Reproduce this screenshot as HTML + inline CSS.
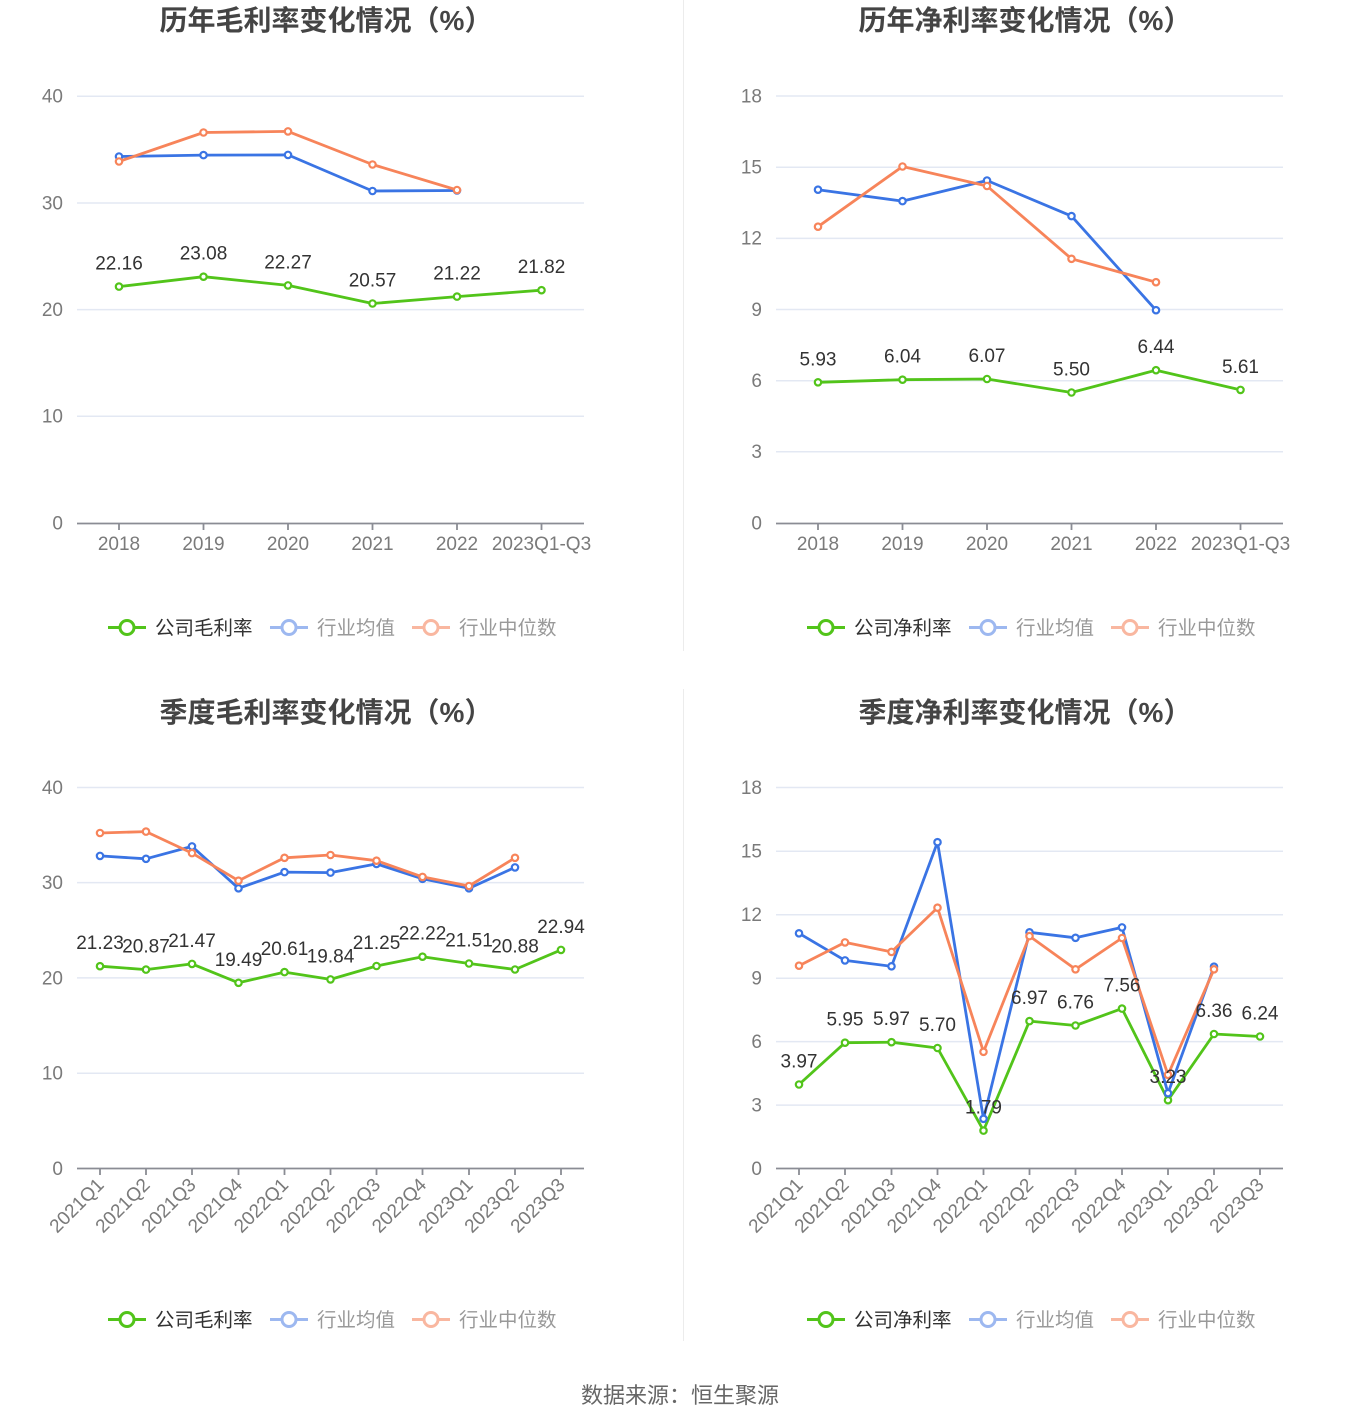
<!DOCTYPE html>
<html>
<head>
<meta charset="utf-8">
<style>
html,body{margin:0;padding:0;background:#fff;}
svg{display:block;}
text{font-family:"Liberation Sans","Noto Sans CJK SC",sans-serif;}
.t{font-size:28px;font-weight:bold;fill:#444;text-anchor:middle;}
.ya{font-size:19px;fill:#7a7a7a;text-anchor:end;}
.xa{font-size:19px;fill:#7a7a7a;text-anchor:middle;}
.xr{font-size:19px;fill:#7a7a7a;text-anchor:end;}
.dl{font-size:19px;fill:#333;text-anchor:middle;}
.lg{font-size:19.5px;fill:#333;}
.lgi{font-size:19.5px;fill:#999;}
.grid{stroke:#e3e8f3;stroke-width:1.5;}
.axis{stroke:#8a8c94;stroke-width:1.8;}
.g{fill:none;stroke:#52c41a;stroke-width:2.8;stroke-linejoin:round;}
.b{fill:none;stroke:#3a74e4;stroke-width:2.8;stroke-linejoin:round;}
.o{fill:none;stroke:#f7845a;stroke-width:2.8;stroke-linejoin:round;}
.mg circle{fill:#fff;stroke:#52c41a;stroke-width:2.2;}
.mb circle{fill:#fff;stroke:#3a74e4;stroke-width:2.2;}
.mo circle{fill:#fff;stroke:#f7845a;stroke-width:2.2;}
</style>
</head>
<body>
<svg width="1360" height="1425" viewBox="0 0 1360 1425" xmlns="http://www.w3.org/2000/svg">
<rect width="1360" height="1425" fill="#fff"/>
<line x1="683.5" y1="0" x2="683.5" y2="651" stroke="#ececec" stroke-width="1"/>
<line x1="683.5" y1="689" x2="683.5" y2="1341" stroke="#ececec" stroke-width="1"/>

<!-- ========== CHART 1 ========== -->
<text class="t" x="326" y="30">历年毛利率变化情况（%）</text>
<g>
<line class="grid" x1="77" y1="96.2" x2="584" y2="96.2"/>
<line class="grid" x1="77" y1="203" x2="584" y2="203"/>
<line class="grid" x1="77" y1="309.6" x2="584" y2="309.6"/>
<line class="grid" x1="77" y1="416.3" x2="584" y2="416.3"/>
<text class="ya" x="63" y="102.5">40</text>
<text class="ya" x="63" y="209.5">30</text>
<text class="ya" x="63" y="316">20</text>
<text class="ya" x="63" y="422.5">10</text>
<text class="ya" x="63" y="529.5">0</text>
<line class="axis" x1="77" y1="523.5" x2="584" y2="523.5"/>
<g class="axis">
<line x1="119" y1="523.5" x2="119" y2="530"/><line x1="203.5" y1="523.5" x2="203.5" y2="530"/><line x1="288" y1="523.5" x2="288" y2="530"/><line x1="372.5" y1="523.5" x2="372.5" y2="530"/><line x1="457" y1="523.5" x2="457" y2="530"/><line x1="541.5" y1="523.5" x2="541.5" y2="530"/>
</g>
<text class="xa" x="119" y="550">2018</text>
<text class="xa" x="203.5" y="550">2019</text>
<text class="xa" x="288" y="550">2020</text>
<text class="xa" x="372.5" y="550">2021</text>
<text class="xa" x="457" y="550">2022</text>
<text class="xa" x="541.5" y="550">2023Q1-Q3</text>
<polyline class="g" points="119,286.6 203.5,276.7 288,285.4 372.5,303.5 457,296.6 541.5,290.2"/>
<polyline class="b" points="119,156.5 203.5,155.1 288,154.9 372.5,191 457,190.5"/>
<polyline class="o" points="119,161.5 203.5,132.5 288,131.4 372.5,164.5 457,190"/>
<g class="mg"><circle cx="119" cy="286.6" r="3.2"/><circle cx="203.5" cy="276.7" r="3.2"/><circle cx="288" cy="285.4" r="3.2"/><circle cx="372.5" cy="303.5" r="3.2"/><circle cx="457" cy="296.6" r="3.2"/><circle cx="541.5" cy="290.2" r="3.2"/></g>
<g class="mb"><circle cx="119" cy="156.5" r="3.2"/><circle cx="203.5" cy="155.1" r="3.2"/><circle cx="288" cy="154.9" r="3.2"/><circle cx="372.5" cy="191" r="3.2"/><circle cx="457" cy="190.5" r="3.2"/></g>
<g class="mo"><circle cx="119" cy="161.5" r="3.2"/><circle cx="203.5" cy="132.5" r="3.2"/><circle cx="288" cy="131.4" r="3.2"/><circle cx="372.5" cy="164.5" r="3.2"/><circle cx="457" cy="190" r="3.2"/></g>
<text class="dl" x="119" y="269.6">22.16</text>
<text class="dl" x="203.5" y="259.7">23.08</text>
<text class="dl" x="288" y="268.4">22.27</text>
<text class="dl" x="372.5" y="286.5">20.57</text>
<text class="dl" x="457" y="279.6">21.22</text>
<text class="dl" x="541.5" y="273.2">21.82</text>
<line x1="108" y1="627.5" x2="146" y2="627.5" stroke="#52c41a" stroke-width="3"/>
<circle cx="127" cy="627.5" r="7" fill="#fff" stroke="#52c41a" stroke-width="3"/>
<text class="lg" x="155" y="634.5">公司毛利率</text>
<line x1="270" y1="627.5" x2="308" y2="627.5" stroke="#9db8f0" stroke-width="3"/>
<circle cx="289" cy="627.5" r="7" fill="#fff" stroke="#9db8f0" stroke-width="3"/>
<text class="lgi" x="317" y="634.5">行业均值</text>
<line x1="412" y1="627.5" x2="450" y2="627.5" stroke="#f9b7a0" stroke-width="3"/>
<circle cx="431" cy="627.5" r="7" fill="#fff" stroke="#f9b7a0" stroke-width="3"/>
<text class="lgi" x="459" y="634.5">行业中位数</text>
</g>

<!-- ========== CHART 2 ========== -->
<text class="t" x="1025" y="30">历年净利率变化情况（%）</text>
<g>
<line class="grid" x1="776" y1="96" x2="1283" y2="96"/>
<line class="grid" x1="776" y1="167.2" x2="1283" y2="167.2"/>
<line class="grid" x1="776" y1="238.4" x2="1283" y2="238.4"/>
<line class="grid" x1="776" y1="309.5" x2="1283" y2="309.5"/>
<line class="grid" x1="776" y1="380.7" x2="1283" y2="380.7"/>
<line class="grid" x1="776" y1="451.8" x2="1283" y2="451.8"/>
<text class="ya" x="762" y="102.5">18</text>
<text class="ya" x="762" y="173.5">15</text>
<text class="ya" x="762" y="244.5">12</text>
<text class="ya" x="762" y="316">9</text>
<text class="ya" x="762" y="387">6</text>
<text class="ya" x="762" y="458">3</text>
<text class="ya" x="762" y="529.5">0</text>
<line class="axis" x1="776" y1="523.5" x2="1283" y2="523.5"/>
<g class="axis">
<line x1="818" y1="523.5" x2="818" y2="530"/><line x1="902.5" y1="523.5" x2="902.5" y2="530"/><line x1="987" y1="523.5" x2="987" y2="530"/><line x1="1071.5" y1="523.5" x2="1071.5" y2="530"/><line x1="1156" y1="523.5" x2="1156" y2="530"/><line x1="1240.5" y1="523.5" x2="1240.5" y2="530"/>
</g>
<text class="xa" x="818" y="550">2018</text>
<text class="xa" x="902.5" y="550">2019</text>
<text class="xa" x="987" y="550">2020</text>
<text class="xa" x="1071.5" y="550">2021</text>
<text class="xa" x="1156" y="550">2022</text>
<text class="xa" x="1240.5" y="550">2023Q1-Q3</text>
<polyline class="g" points="818,382.3 902.5,379.7 987,379 1071.5,392.5 1156,370.2 1240.5,389.9"/>
<polyline class="b" points="818,189.7 902.5,201.1 987,180.5 1071.5,216.1 1156,310.2"/>
<polyline class="o" points="818,226.7 902.5,166.5 987,186 1071.5,258.8 1156,282.2"/>
<g class="mg"><circle cx="818" cy="382.3" r="3.2"/><circle cx="902.5" cy="379.7" r="3.2"/><circle cx="987" cy="379" r="3.2"/><circle cx="1071.5" cy="392.5" r="3.2"/><circle cx="1156" cy="370.2" r="3.2"/><circle cx="1240.5" cy="389.9" r="3.2"/></g>
<g class="mb"><circle cx="818" cy="189.7" r="3.2"/><circle cx="902.5" cy="201.1" r="3.2"/><circle cx="987" cy="180.5" r="3.2"/><circle cx="1071.5" cy="216.1" r="3.2"/><circle cx="1156" cy="310.2" r="3.2"/></g>
<g class="mo"><circle cx="818" cy="226.7" r="3.2"/><circle cx="902.5" cy="166.5" r="3.2"/><circle cx="987" cy="186" r="3.2"/><circle cx="1071.5" cy="258.8" r="3.2"/><circle cx="1156" cy="282.2" r="3.2"/></g>
<text class="dl" x="818" y="365.3">5.93</text>
<text class="dl" x="902.5" y="362.7">6.04</text>
<text class="dl" x="987" y="362">6.07</text>
<text class="dl" x="1071.5" y="375.5">5.50</text>
<text class="dl" x="1156" y="353.2">6.44</text>
<text class="dl" x="1240.5" y="372.9">5.61</text>
<line x1="807" y1="627.5" x2="845" y2="627.5" stroke="#52c41a" stroke-width="3"/>
<circle cx="826" cy="627.5" r="7" fill="#fff" stroke="#52c41a" stroke-width="3"/>
<text class="lg" x="854" y="634.5">公司净利率</text>
<line x1="969" y1="627.5" x2="1007" y2="627.5" stroke="#9db8f0" stroke-width="3"/>
<circle cx="988" cy="627.5" r="7" fill="#fff" stroke="#9db8f0" stroke-width="3"/>
<text class="lgi" x="1016" y="634.5">行业均值</text>
<line x1="1111" y1="627.5" x2="1149" y2="627.5" stroke="#f9b7a0" stroke-width="3"/>
<circle cx="1130" cy="627.5" r="7" fill="#fff" stroke="#f9b7a0" stroke-width="3"/>
<text class="lgi" x="1158" y="634.5">行业中位数</text>
</g>

<!-- ========== CHART 3 ========== -->
<text class="t" x="326" y="722">季度毛利率变化情况（%）</text>
<g>
<line class="grid" x1="77" y1="787.5" x2="584" y2="787.5"/>
<line class="grid" x1="77" y1="882.6" x2="584" y2="882.6"/>
<line class="grid" x1="77" y1="977.9" x2="584" y2="977.9"/>
<line class="grid" x1="77" y1="1073.2" x2="584" y2="1073.2"/>
<text class="ya" x="63" y="794">40</text>
<text class="ya" x="63" y="889">30</text>
<text class="ya" x="63" y="984.5">20</text>
<text class="ya" x="63" y="1079.5">10</text>
<text class="ya" x="63" y="1175">0</text>
<line class="axis" x1="77" y1="1168.5" x2="584" y2="1168.5"/>
<g class="axis">
<line x1="100" y1="1168.5" x2="100" y2="1175"/><line x1="146" y1="1168.5" x2="146" y2="1175"/><line x1="192" y1="1168.5" x2="192" y2="1175"/><line x1="238.5" y1="1168.5" x2="238.5" y2="1175"/><line x1="284.5" y1="1168.5" x2="284.5" y2="1175"/><line x1="330.5" y1="1168.5" x2="330.5" y2="1175"/><line x1="376.5" y1="1168.5" x2="376.5" y2="1175"/><line x1="422.5" y1="1168.5" x2="422.5" y2="1175"/><line x1="469" y1="1168.5" x2="469" y2="1175"/><line x1="515" y1="1168.5" x2="515" y2="1175"/><line x1="561" y1="1168.5" x2="561" y2="1175"/>
</g>
<text class="xr" transform="translate(105,1186) rotate(-45)">2021Q1</text>
<text class="xr" transform="translate(151,1186) rotate(-45)">2021Q2</text>
<text class="xr" transform="translate(197,1186) rotate(-45)">2021Q3</text>
<text class="xr" transform="translate(243.5,1186) rotate(-45)">2021Q4</text>
<text class="xr" transform="translate(289.5,1186) rotate(-45)">2022Q1</text>
<text class="xr" transform="translate(335.5,1186) rotate(-45)">2022Q2</text>
<text class="xr" transform="translate(381.5,1186) rotate(-45)">2022Q3</text>
<text class="xr" transform="translate(427.5,1186) rotate(-45)">2022Q4</text>
<text class="xr" transform="translate(474,1186) rotate(-45)">2023Q1</text>
<text class="xr" transform="translate(520,1186) rotate(-45)">2023Q2</text>
<text class="xr" transform="translate(566,1186) rotate(-45)">2023Q3</text>
<polyline class="g" points="100,966.2 146,969.6 192,963.9 238.5,982.8 284.5,972.1 330.5,979.4 376.5,966 422.5,956.7 469,963.5 515,969.5 561,949.9"/>
<polyline class="b" points="100,855.9 146,858.8 192,846.4 238.5,888.3 284.5,872.1 330.5,872.6 376.5,863.9 422.5,878.8 469,888.3 515,867.4"/>
<polyline class="o" points="100,833 146,831.6 192,853.1 238.5,880.7 284.5,857.8 330.5,855 376.5,860.7 422.5,876.9 469,886 515,857.8"/>
<g class="mg"><circle cx="100" cy="966.2" r="3.2"/><circle cx="146" cy="969.6" r="3.2"/><circle cx="192" cy="963.9" r="3.2"/><circle cx="238.5" cy="982.8" r="3.2"/><circle cx="284.5" cy="972.1" r="3.2"/><circle cx="330.5" cy="979.4" r="3.2"/><circle cx="376.5" cy="966" r="3.2"/><circle cx="422.5" cy="956.7" r="3.2"/><circle cx="469" cy="963.5" r="3.2"/><circle cx="515" cy="969.5" r="3.2"/><circle cx="561" cy="949.9" r="3.2"/></g>
<g class="mb"><circle cx="100" cy="855.9" r="3.2"/><circle cx="146" cy="858.8" r="3.2"/><circle cx="192" cy="846.4" r="3.2"/><circle cx="238.5" cy="888.3" r="3.2"/><circle cx="284.5" cy="872.1" r="3.2"/><circle cx="330.5" cy="872.6" r="3.2"/><circle cx="376.5" cy="863.9" r="3.2"/><circle cx="422.5" cy="878.8" r="3.2"/><circle cx="469" cy="888.3" r="3.2"/><circle cx="515" cy="867.4" r="3.2"/></g>
<g class="mo"><circle cx="100" cy="833" r="3.2"/><circle cx="146" cy="831.6" r="3.2"/><circle cx="192" cy="853.1" r="3.2"/><circle cx="238.5" cy="880.7" r="3.2"/><circle cx="284.5" cy="857.8" r="3.2"/><circle cx="330.5" cy="855" r="3.2"/><circle cx="376.5" cy="860.7" r="3.2"/><circle cx="422.5" cy="876.9" r="3.2"/><circle cx="469" cy="886" r="3.2"/><circle cx="515" cy="857.8" r="3.2"/></g>
<text class="dl" x="100" y="949.2">21.23</text>
<text class="dl" x="146" y="952.6">20.87</text>
<text class="dl" x="192" y="946.9">21.47</text>
<text class="dl" x="238.5" y="965.8">19.49</text>
<text class="dl" x="284.5" y="955.1">20.61</text>
<text class="dl" x="330.5" y="962.4">19.84</text>
<text class="dl" x="376.5" y="949">21.25</text>
<text class="dl" x="422.5" y="939.7">22.22</text>
<text class="dl" x="469" y="946.5">21.51</text>
<text class="dl" x="515" y="952.5">20.88</text>
<text class="dl" x="561" y="932.9">22.94</text>
<line x1="108" y1="1319.5" x2="146" y2="1319.5" stroke="#52c41a" stroke-width="3"/>
<circle cx="127" cy="1319.5" r="7" fill="#fff" stroke="#52c41a" stroke-width="3"/>
<text class="lg" x="155" y="1326.5">公司毛利率</text>
<line x1="270" y1="1319.5" x2="308" y2="1319.5" stroke="#9db8f0" stroke-width="3"/>
<circle cx="289" cy="1319.5" r="7" fill="#fff" stroke="#9db8f0" stroke-width="3"/>
<text class="lgi" x="317" y="1326.5">行业均值</text>
<line x1="412" y1="1319.5" x2="450" y2="1319.5" stroke="#f9b7a0" stroke-width="3"/>
<circle cx="431" cy="1319.5" r="7" fill="#fff" stroke="#f9b7a0" stroke-width="3"/>
<text class="lgi" x="459" y="1326.5">行业中位数</text>
</g>

<!-- ========== CHART 4 ========== -->
<text class="t" x="1025" y="722">季度净利率变化情况（%）</text>
<g>
<line class="grid" x1="776" y1="787.5" x2="1283" y2="787.5"/>
<line class="grid" x1="776" y1="851.3" x2="1283" y2="851.3"/>
<line class="grid" x1="776" y1="914.7" x2="1283" y2="914.7"/>
<line class="grid" x1="776" y1="978.2" x2="1283" y2="978.2"/>
<line class="grid" x1="776" y1="1041.6" x2="1283" y2="1041.6"/>
<line class="grid" x1="776" y1="1105.1" x2="1283" y2="1105.1"/>
<text class="ya" x="762" y="794">18</text>
<text class="ya" x="762" y="857.5">15</text>
<text class="ya" x="762" y="921">12</text>
<text class="ya" x="762" y="984.5">9</text>
<text class="ya" x="762" y="1048">6</text>
<text class="ya" x="762" y="1111.5">3</text>
<text class="ya" x="762" y="1175">0</text>
<line class="axis" x1="776" y1="1168.5" x2="1283" y2="1168.5"/>
<g class="axis">
<line x1="799" y1="1168.5" x2="799" y2="1175"/><line x1="845" y1="1168.5" x2="845" y2="1175"/><line x1="891.5" y1="1168.5" x2="891.5" y2="1175"/><line x1="937.5" y1="1168.5" x2="937.5" y2="1175"/><line x1="983.5" y1="1168.5" x2="983.5" y2="1175"/><line x1="1029.5" y1="1168.5" x2="1029.5" y2="1175"/><line x1="1075.5" y1="1168.5" x2="1075.5" y2="1175"/><line x1="1122" y1="1168.5" x2="1122" y2="1175"/><line x1="1168" y1="1168.5" x2="1168" y2="1175"/><line x1="1214" y1="1168.5" x2="1214" y2="1175"/><line x1="1260" y1="1168.5" x2="1260" y2="1175"/>
</g>
<text class="xr" transform="translate(804,1186) rotate(-45)">2021Q1</text>
<text class="xr" transform="translate(850,1186) rotate(-45)">2021Q2</text>
<text class="xr" transform="translate(896.5,1186) rotate(-45)">2021Q3</text>
<text class="xr" transform="translate(942.5,1186) rotate(-45)">2021Q4</text>
<text class="xr" transform="translate(988.5,1186) rotate(-45)">2022Q1</text>
<text class="xr" transform="translate(1034.5,1186) rotate(-45)">2022Q2</text>
<text class="xr" transform="translate(1080.5,1186) rotate(-45)">2022Q3</text>
<text class="xr" transform="translate(1127,1186) rotate(-45)">2022Q4</text>
<text class="xr" transform="translate(1173,1186) rotate(-45)">2023Q1</text>
<text class="xr" transform="translate(1219,1186) rotate(-45)">2023Q2</text>
<text class="xr" transform="translate(1265,1186) rotate(-45)">2023Q3</text>
<polyline class="g" points="799,1084.5 845,1042.7 891.5,1042.2 937.5,1048 983.5,1130.6 1029.5,1021.1 1075.5,1025.5 1122,1008.6 1168,1100.2 1214,1034 1260,1036.5"/>
<polyline class="b" points="799,933.3 845,960.4 891.5,966.3 937.5,842.2 983.5,1118.8 1029.5,932.3 1075.5,937.8 1122,927.4 1168,1093.2 1214,966.7"/>
<polyline class="o" points="799,965.7 845,942.4 891.5,951.9 937.5,907.7 983.5,1051.8 1029.5,936.1 1075.5,969.3 1122,938 1168,1074.8 1214,969.3"/>
<g class="mg"><circle cx="799" cy="1084.5" r="3.2"/><circle cx="845" cy="1042.7" r="3.2"/><circle cx="891.5" cy="1042.2" r="3.2"/><circle cx="937.5" cy="1048" r="3.2"/><circle cx="983.5" cy="1130.6" r="3.2"/><circle cx="1029.5" cy="1021.1" r="3.2"/><circle cx="1075.5" cy="1025.5" r="3.2"/><circle cx="1122" cy="1008.6" r="3.2"/><circle cx="1168" cy="1100.2" r="3.2"/><circle cx="1214" cy="1034" r="3.2"/><circle cx="1260" cy="1036.5" r="3.2"/></g>
<g class="mb"><circle cx="799" cy="933.3" r="3.2"/><circle cx="845" cy="960.4" r="3.2"/><circle cx="891.5" cy="966.3" r="3.2"/><circle cx="937.5" cy="842.2" r="3.2"/><circle cx="983.5" cy="1118.8" r="3.2"/><circle cx="1029.5" cy="932.3" r="3.2"/><circle cx="1075.5" cy="937.8" r="3.2"/><circle cx="1122" cy="927.4" r="3.2"/><circle cx="1168" cy="1093.2" r="3.2"/><circle cx="1214" cy="966.7" r="3.2"/></g>
<g class="mo"><circle cx="799" cy="965.7" r="3.2"/><circle cx="845" cy="942.4" r="3.2"/><circle cx="891.5" cy="951.9" r="3.2"/><circle cx="937.5" cy="907.7" r="3.2"/><circle cx="983.5" cy="1051.8" r="3.2"/><circle cx="1029.5" cy="936.1" r="3.2"/><circle cx="1075.5" cy="969.3" r="3.2"/><circle cx="1122" cy="938" r="3.2"/><circle cx="1168" cy="1074.8" r="3.2"/><circle cx="1214" cy="969.3" r="3.2"/></g>
<text class="dl" x="799" y="1067.5">3.97</text>
<text class="dl" x="845" y="1025.7">5.95</text>
<text class="dl" x="891.5" y="1025.2">5.97</text>
<text class="dl" x="937.5" y="1031">5.70</text>
<text class="dl" x="983.5" y="1113.6">1.79</text>
<text class="dl" x="1029.5" y="1004.1">6.97</text>
<text class="dl" x="1075.5" y="1008.5">6.76</text>
<text class="dl" x="1122" y="991.6">7.56</text>
<text class="dl" x="1168" y="1083.2">3.23</text>
<text class="dl" x="1214" y="1017">6.36</text>
<text class="dl" x="1260" y="1019.5">6.24</text>
<line x1="807" y1="1319.5" x2="845" y2="1319.5" stroke="#52c41a" stroke-width="3"/>
<circle cx="826" cy="1319.5" r="7" fill="#fff" stroke="#52c41a" stroke-width="3"/>
<text class="lg" x="854" y="1326.5">公司净利率</text>
<line x1="969" y1="1319.5" x2="1007" y2="1319.5" stroke="#9db8f0" stroke-width="3"/>
<circle cx="988" cy="1319.5" r="7" fill="#fff" stroke="#9db8f0" stroke-width="3"/>
<text class="lgi" x="1016" y="1326.5">行业均值</text>
<line x1="1111" y1="1319.5" x2="1149" y2="1319.5" stroke="#f9b7a0" stroke-width="3"/>
<circle cx="1130" cy="1319.5" r="7" fill="#fff" stroke="#f9b7a0" stroke-width="3"/>
<text class="lgi" x="1158" y="1326.5">行业中位数</text>
</g>

<text x="680" y="1403" style="font-size:22px;fill:#666;text-anchor:middle;">数据来源：恒生聚源</text>
</svg>
</body>
</html>
